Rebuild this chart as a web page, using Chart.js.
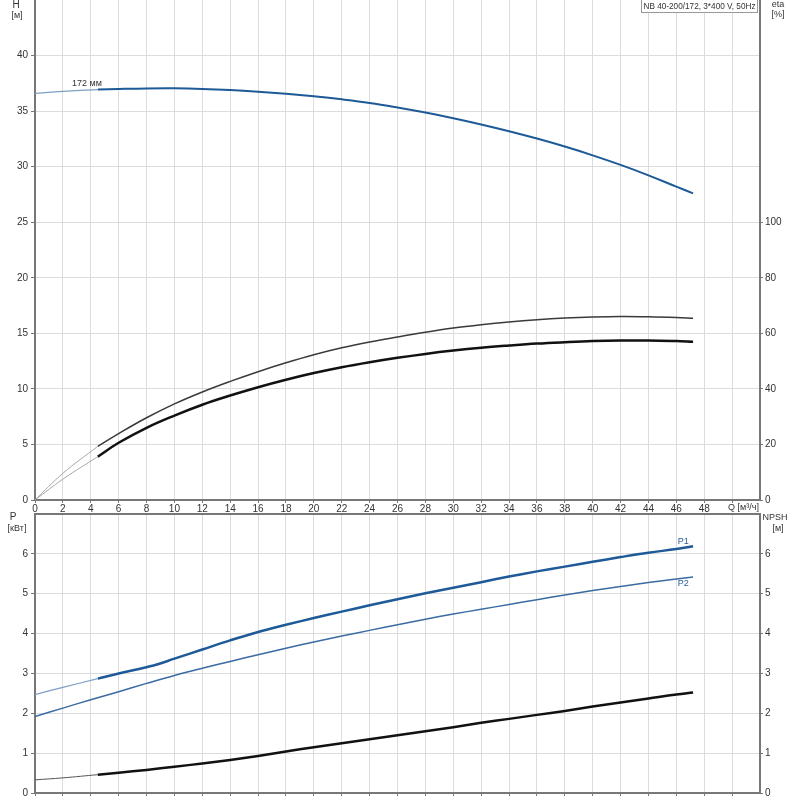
<!DOCTYPE html>
<html>
<head>
<meta charset="utf-8">
<script src="https://cdn.jsdelivr.net/npm/chart.js@4/dist/chart.umd.min.js"></script>
<style>
  html, body { margin: 0; padding: 0; background: #fff; }
  #wrap { position: relative; width: 800px; height: 800px; }
  #top { position: absolute; left: 0; top: 0; }
  #bot { position: absolute; left: 0; top: 512px; }
</style>
</head>
<body>
<div id="wrap">
  <canvas id="top" width="800" height="512"></canvas>
  <canvas id="bot" width="800" height="288"></canvas>
</div>
<script>
// ---------- data ----------
const qTicks = [0, 2, 4, 6, 8, 10, 12, 14, 16, 18, 20, 22, 24, 26, 28, 30, 32, 34, 36, 38, 40, 42, 44, 46, 48];
const qLabel = 'Q [м³/ч]';
const titleText = 'NB 40-200/172, 3*400 V, 50Hz';
const curveLabel = '172 мм';

// extension (thin) portion at low flow
const qExt = [0, 2, 4.5];
// main (thick) portion
const qMain = [4.5, 6, 8, 10, 12, 14, 16, 18, 20, 22, 24, 26, 28, 30, 32, 34, 36, 38, 40, 42, 44, 46, 47.2];

// H [m]
const hExt  = [36.59, 36.77, 36.94];
const hMain = [36.94, 36.99, 37.04, 37.05, 37.0, 36.9, 36.75, 36.56, 36.33, 36.06, 35.74, 35.33, 34.87, 34.36, 33.8, 33.19, 32.53, 31.81, 31.02, 30.16, 29.22, 28.2, 27.6];

// eta [%] (upper curve = pump, lower curve = total)
const etaPExt  = [0, 9.6, 19.3];
const etaPMain = [19.3, 23.9, 29.6, 34.6, 38.9, 42.7, 46.2, 49.4, 52.3, 54.8, 56.9, 58.7, 60.4, 61.9, 63.1, 64.1, 64.9, 65.5, 65.9, 66.1, 66.0, 65.7, 65.4];
const etaTExt  = [0, 7.5, 15.6];
const etaTMain = [15.6, 20.6, 26.0, 30.4, 34.3, 37.6, 40.6, 43.3, 45.7, 47.8, 49.6, 51.2, 52.6, 53.8, 54.8, 55.6, 56.3, 56.8, 57.2, 57.4, 57.4, 57.2, 57.0];

// P1 [kW]
const qP1Main = [4.5, 6, 8.5, 10, 12, 14, 16, 18, 20, 22, 24, 26, 28, 30, 32, 34, 36, 38, 40, 42, 44, 46, 47.2];
const p1Ext  = [2.47, 2.65, 2.87];
const p1Main = [2.87, 3.0, 3.2, 3.37, 3.6, 3.83, 4.04, 4.22, 4.39, 4.55, 4.71, 4.86, 5.01, 5.15, 5.29, 5.43, 5.56, 5.68, 5.8, 5.92, 6.03, 6.12, 6.19];

// P2 [kW]
const qP2 = [0, 2, 4, 6, 8, 10, 12, 14, 16, 18, 20, 22, 24, 26, 28, 30, 32, 34, 36, 38, 40, 42, 44, 46, 47.2];
const p2  = [1.92, 2.13, 2.34, 2.54, 2.75, 2.95, 3.13, 3.3, 3.47, 3.63, 3.79, 3.94, 4.08, 4.22, 4.36, 4.49, 4.61, 4.73, 4.85, 4.97, 5.08, 5.18, 5.28, 5.37, 5.42];

// NPSH [m]
const npshExt  = [0.33, 0.38, 0.46];
const npshMain = [0.46, 0.51, 0.58, 0.66, 0.74, 0.83, 0.93, 1.04, 1.15, 1.25, 1.35, 1.45, 1.55, 1.65, 1.76, 1.86, 1.96, 2.06, 2.17, 2.27, 2.37, 2.47, 2.52];

// ---------- helpers ----------
const pts = (xs, ys) => xs.map((x, i) => ({ x: x, y: ys[i] }));
const FONT = 'Arial, "Liberation Sans", sans-serif';
const TXT = '#333';
const GRID = '#dcdcdc';
const AXIS = '#777';
const BLUE = '#1d5a97';

function line(data, color, width, axis) {
  return { data: data, borderColor: color, borderWidth: width, pointRadius: 0,
           fill: false, tension: 0.4, yAxisID: axis };
}

const xScaleBase = (showTicks, height) => ({
  type: 'linear', min: 0, max: 52,
  afterBuildTicks: s => { s.ticks = qTicks.concat([50]).map(v => ({ value: v })); },
  afterFit: s => { s.height = height; s.paddingLeft = 0; s.paddingRight = 0; },
  ticks: { display: showTicks, autoSkip: false, maxRotation: 0, padding: 0,
           color: TXT, font: { family: FONT, size: 10 },
           callback: v => (v === 50 ? '' : String(v)) },
  grid: { color: GRID, lineWidth: 1, tickLength: 3, tickColor: AXIS },
  border: { display: true, color: AXIS, width: 2 }
});

function yScale(pos, max, step, showMax, width, tl, pad) {
  return {
    type: 'linear', position: pos, min: 0, max: max,
    afterBuildTicks: s => {
      const t = [];
      for (let v = 0; v <= showMax + 1e-9; v += step) t.push({ value: v });
      s.ticks = t;
    },
    afterFit: s => { s.width = width; s.paddingTop = 0; s.paddingBottom = 0; },
    ticks: { color: TXT, font: { family: FONT, size: 10 }, padding: pad },
    grid: { color: GRID, lineWidth: 1, tickLength: tl, tickColor: AXIS,
            drawOnChartArea: pos === 'left' },
    border: { display: true, color: AXIS, width: 2 }
  };
}

function drawText(ctx, txt, x, y, color, size, align, maxW) {
  ctx.save();
  ctx.fillStyle = color || TXT;
  ctx.font = (size || 10) + 'px ' + FONT;
  ctx.textAlign = align || 'center';
  ctx.textBaseline = 'middle';
  if (maxW) ctx.fillText(txt, x, y, maxW); else ctx.fillText(txt, x, y);
  ctx.restore();
}

// ---------- top chart ----------
const topPlugin = {
  id: 'topTexts',
  afterDraw(chart) {
    const ctx = chart.ctx;
    const xs = chart.scales.x, ys = chart.scales.yH;
    drawText(ctx, 'H', 16, 5, TXT, 10);
    drawText(ctx, '[м]', 17, 16, TXT, 9);
    drawText(ctx, 'eta', 778, 5, TXT, 9);
    drawText(ctx, '[%]', 778, 15, TXT, 9);
    drawText(ctx, qLabel, 728, 508, TXT, 9, 'left');
    // title box
    ctx.save();
    ctx.fillStyle = '#fff';
    ctx.fillRect(641, 0, 117, 13);
    ctx.strokeStyle = '#999';
    ctx.lineWidth = 1;
    ctx.strokeRect(641.5, -0.5, 116, 13);
    ctx.restore();
    drawText(ctx, titleText, 643.5, 6.5, TXT, 9, 'left', 112);
    // curve label
    drawText(ctx, curveLabel, xs.getPixelForValue(2.65), ys.getPixelForValue(37.5), TXT, 9, 'left');
  }
};

new Chart(document.getElementById('top'), {
  type: 'line',
  data: { datasets: [
    line(pts(qExt, etaPExt), '#a8a8a8', 1, 'yEta'),
    line(pts(qExt, etaTExt), '#a8a8a8', 1, 'yEta'),
    line(pts(qMain, etaPMain), '#3a3a3a', 1.5, 'yEta'),
    line(pts(qMain, etaTMain), '#111', 2.5, 'yEta'),
    line(pts(qExt, hExt), '#7f9fc4', 1.2, 'yH'),
    line(pts(qMain, hMain), BLUE, 2, 'yH')
  ] },
  options: {
    responsive: false, animation: false, devicePixelRatio: 1,
    layout: { padding: { top: 0, left: 0, right: 0, bottom: 0 } },
    plugins: { legend: { display: false }, tooltip: { enabled: false } },
    scales: {
      x: xScaleBase(true, 12),
      yH: yScale('left', 45, 5, 40, 35, 4, 3),
      yEta: yScale('right', 180, 20, 100, 40, 3, 2)
    }
  },
  plugins: [topPlugin]
});

// ---------- bottom chart ----------
const botPlugin = {
  id: 'botTexts',
  afterDraw(chart) {
    const ctx = chart.ctx;
    const a = chart.chartArea;
    const xs = chart.scales.x, ys = chart.scales.yP;
    ctx.save();
    ctx.strokeStyle = AXIS;
    ctx.lineWidth = 2;
    ctx.beginPath();
    ctx.moveTo(a.left - 1, a.top);
    ctx.lineTo(a.right + 1, a.top);
    ctx.stroke();
    ctx.restore();
    drawText(ctx, 'P', 13, 5.5, TXT, 10);
    drawText(ctx, '[кВт]', 17, 17, TXT, 9);
    drawText(ctx, 'NPSH', 775, 6, TXT, 9);
    drawText(ctx, '[м]', 778, 17, TXT, 9);
    drawText(ctx, 'P1', xs.getPixelForValue(46.5), ys.getPixelForValue(6.3), '#2a5f9a', 9);
    drawText(ctx, 'P2', xs.getPixelForValue(46.5), ys.getPixelForValue(5.25), '#2a5f9a', 9);
  }
};

new Chart(document.getElementById('bot'), {
  type: 'line',
  data: { datasets: [
    line(pts(qExt, npshExt), '#555', 1, 'yN'),
    line(pts(qMain, npshMain), '#111', 2.5, 'yN'),
    line(pts(qP2, p2), '#3a6ba3', 1.5, 'yP'),
    line(pts(qExt, p1Ext), '#7f9fc4', 1.2, 'yP'),
    line(pts(qP1Main, p1Main), BLUE, 2.5, 'yP')
  ] },
  options: {
    responsive: false, animation: false, devicePixelRatio: 1,
    layout: { padding: { top: 2, left: 0, right: 0, bottom: 0 } },
    plugins: { legend: { display: false }, tooltip: { enabled: false } },
    scales: {
      x: xScaleBase(false, 7),
      yP: yScale('left', 7, 1, 6, 35, 4, 3),
      yN: yScale('right', 7, 1, 6, 40, 3, 2)
    }
  },
  plugins: [botPlugin]
});
</script>
</body>
</html>
